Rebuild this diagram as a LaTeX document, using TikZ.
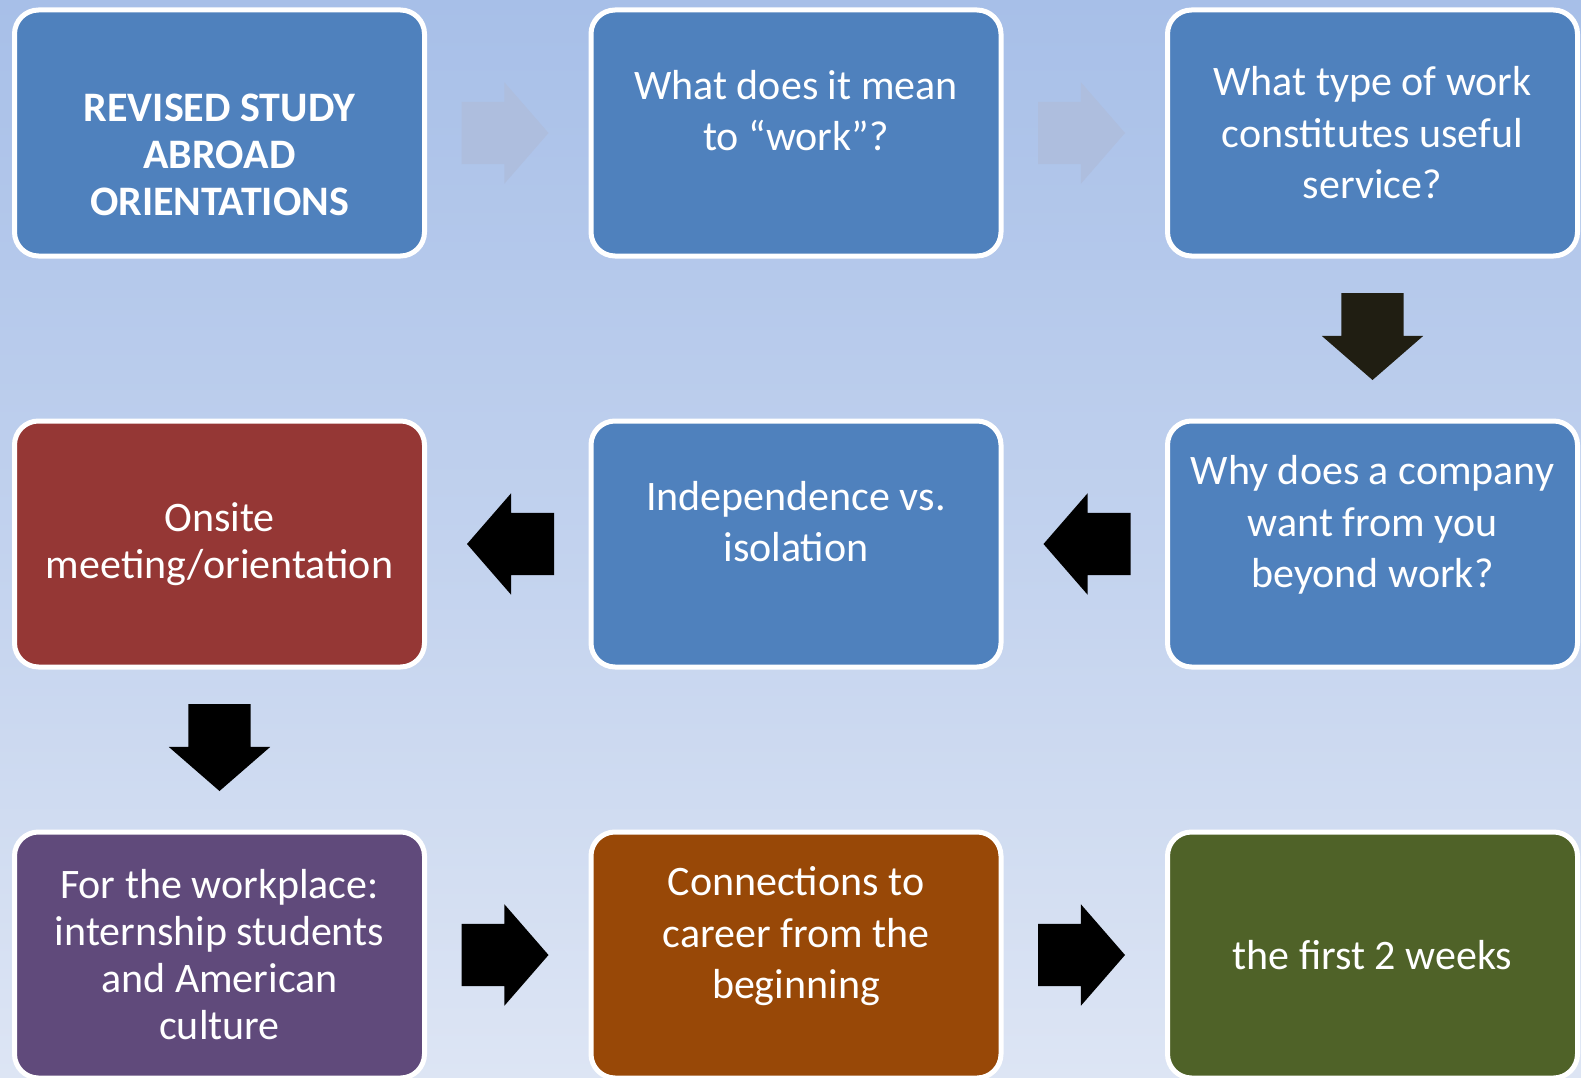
\documentclass[tikz,border=0pt]{standalone}
\usepackage{fontspec}
\setmainfont{Carlito}
\usetikzlibrary{positioning}
\usetikzlibrary{shapes.arrows}
\usetikzlibrary{calc}

\definecolor{bgtop}{RGB}{167,191,232}
\definecolor{bgbottom}{RGB}{221,229,244}
\definecolor{stepblue}{RGB}{79,129,189}
\definecolor{stepred}{RGB}{149,55,53}
\definecolor{steppurple}{RGB}{96,74,123}
\definecolor{steporange}{RGB}{152,72,7}
\definecolor{stepgreen}{RGB}{79,98,40}
\definecolor{fadedarrow}{RGB}{174,190,222}
\definecolor{darkarrow}{RGB}{32,30,18}

\tikzset {
  stage/.style = {
    draw = white,
    line width = 5pt,
    rounded corners = 24pt,
    fill = stepblue,
    text = white,
    minimum width = 410pt,
    minimum height = 246pt,
    inner sep = 0,
    outer sep = 0,
    align = center,
    font = \fontsize{42}{51.5}\selectfont
  },
  % tighter line spacing
  tight/.style = {
    font = \fontsize{42}{47}\selectfont
  },
  % block arrow between two stages, placed by its tail
  flow/.style = {
    single arrow,
    draw = none,
    fill = black,
    anchor = tail,
    text height = 31pt,
    text depth = 31pt,
    minimum height = 87pt,
    minimum width = 101pt,
    single arrow head extend = 19.5pt,
    single arrow tip angle = 98,
    inner sep = 0,
    outer sep = 0
  },
  faded/.style = {
    flow,
    fill = fadedarrow
  },
  node distance = 165pt and 166.5pt
}

\begin{document}
\begin{tikzpicture}[x=1pt, y=1pt]
  \useasboundingbox (0,0) rectangle (1581,-1078);
  \clip (0,0) rectangle (1581,-1078);
  \shade[top color=bgtop, bottom color=bgbottom] (0,0) rectangle (1581,-1078);

  % first row
  \node[stage, font=\bfseries\fontsize{42}{47}\selectfont] (revised) at (219.5,-133)
    {\strut\\[-8pt]REVISED STUDY\\ABROAD\\ORIENTATIONS};
  \node[stage] (mean) [right=of revised] {What does it mean\\to “work”?\\[-22pt]\strut};
  \node[stage] (service) [right=of mean] {What type of work\\constitutes useful\\service?};

  % second row
  \node[stage] (company) [below=of service]
    {Why does a company\\want from you\\beyond work?\\[-22pt]\strut};
  \node[stage] (independence) [left=of company] {Independence vs.\\isolation\\[-22pt]\strut};
  \node[stage, tight, fill=stepred] (onsite) [left=of independence]
    {Onsite\\meeting/orientation};

  % third row
  \node[stage, tight, fill=steppurple] (workplace) [below=of onsite]
    {For the workplace:\\internship students\\and American\\culture};
  \node[stage, fill=steporange] (career) [right=of workplace]
    {Connections to\\career from the\\beginning\\[-22pt]\strut};
  \node[stage, fill=stepgreen] (weeks) [right=of career] {the first 2 weeks};

  % arrows
  \node[faded] (revised-mean) at ($(revised.east)!37pt!(mean.west)$) {};
  \node[faded] (mean-service) at ($(mean.east)!37pt!(service.west)$) {};
  \node[flow, fill=darkarrow, rotate=-90] (service-company)
    at ($(service.south)!37pt!(company.north)$) {};
  \node[flow, rotate=180] (company-independence)
    at ($(company.west)!37pt!(independence.east)$) {};
  \node[flow, rotate=180] (independence-onsite)
    at ($(independence.west)!37pt!(onsite.east)$) {};
  \node[flow, rotate=-90] (onsite-workplace)
    at ($(onsite.south)!37pt!(workplace.north)$) {};
  \node[flow] (workplace-career) at ($(workplace.east)!37pt!(career.west)$) {};
  \node[flow] (career-weeks) at ($(career.east)!37pt!(weeks.west)$) {};
\end{tikzpicture}
\end{document}
